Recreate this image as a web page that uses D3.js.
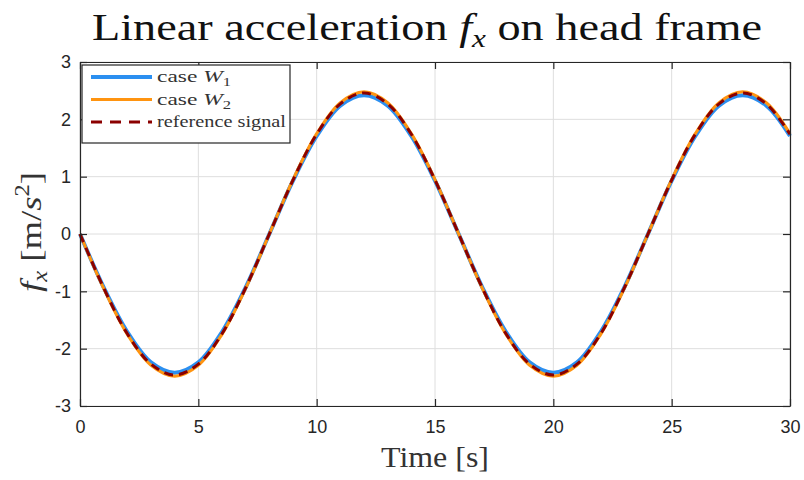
<!DOCTYPE html>
<html>
<head>
<meta charset="utf-8">
<script src="https://cdn.jsdelivr.net/npm/d3@7"></script>
<style>
  body { margin: 0; background: #fff; }
  .tick text { font-family: "Liberation Sans", Arial, sans-serif; font-size: 18px; fill: #262626; }
</style>
</head>
<body>
<script>
// time axis (s)
const time = [0, 1, 2, 3, 4, 5, 6, 7, 8, 9, 10, 11, 12, 13, 14, 15, 16, 17, 18, 19, 20, 21, 22, 23, 24, 25, 26, 27, 28, 29, 30];

// case W1 (blue)
const caseW1 = [0, -0.93, -1.71, -2.24, -2.42, -2.24, -1.71, -0.93, 0, 0.93, 1.71, 2.24, 2.42, 2.24, 1.71, 0.93,
  0, -0.93, -1.71, -2.24, -2.42, -2.24, -1.71, -0.93, 0, 0.93, 1.71, 2.24, 2.42, 2.24, 1.71];

// case W2 (orange)
const caseW2 = [0, -0.95, -1.75, -2.29, -2.48, -2.29, -1.75, -0.95, 0, 0.95, 1.75, 2.29, 2.48, 2.29, 1.75, 0.95,
  0, -0.95, -1.75, -2.29, -2.48, -2.29, -1.75, -0.95, 0, 0.95, 1.75, 2.29, 2.48, 2.29, 1.75];

// reference signal (dashed)
const refSignal = [0, -0.94, -1.74, -2.27, -2.46, -2.27, -1.74, -0.94, 0, 0.94, 1.74, 2.27, 2.46, 2.27, 1.74, 0.94,
  0, -0.94, -1.74, -2.27, -2.46, -2.27, -1.74, -0.94, 0, 0.94, 1.74, 2.27, 2.46, 2.27, 1.74];

const xTicks = [0, 5, 10, 15, 20, 25, 30];
const yTicks = [-3, -2, -1, 0, 1, 2, 3];

const W = 804, H = 480;
const margin = { top: 62, right: 14, bottom: 74, left: 80 };
const iw = W - margin.left - margin.right;
const ih = H - margin.top - margin.bottom;
const axisColor = "#262626";
const serif = "'Liberation Serif', 'DejaVu Serif', serif";

const svg = d3.select("body").append("svg")
  .attr("width", W)
  .attr("height", H);

const g = svg.append("g").attr("transform", `translate(${margin.left},${margin.top})`);

const x = d3.scaleLinear().domain([0, 30]).range([0, iw]);
const y = d3.scaleLinear().domain([-3, 3]).range([ih, 0]);

// grid
g.selectAll(".gx").data(xTicks).enter().append("line")
  .attr("x1", d => x(d)).attr("x2", d => x(d))
  .attr("y1", 0).attr("y2", ih)
  .attr("stroke", "#dedede").attr("stroke-width", 1);
g.selectAll(".gy").data(yTicks).enter().append("line")
  .attr("x1", 0).attr("x2", iw)
  .attr("y1", d => y(d)).attr("y2", d => y(d))
  .attr("stroke", "#dedede").attr("stroke-width", 1);

// lines
const series = [
  { name: "W1", values: caseW1, color: "#2b8ff0", width: 4, dash: null },
  { name: "W2", values: caseW2, color: "#ff9410", width: 3, dash: null },
  { name: "ref", values: refSignal, color: "#8b0000", width: 3, dash: "9,6" }
];

const line = d3.line()
  .x(d => x(d[0]))
  .y(d => y(d[1]))
  .curve(d3.curveCatmullRom.alpha(0.5));

series.forEach(s => {
  g.append("path")
    .datum(time.map((t, i) => [t, s.values[i]]))
    .attr("fill", "none")
    .attr("stroke", s.color)
    .attr("stroke-width", s.width)
    .attr("stroke-dasharray", s.dash)
    .attr("d", line);
});

// axes (ticks inward, mirrored)
const tl = 7;
const fmt = d => String(d);
const xAxis = g.append("g").attr("transform", `translate(0,${ih})`)
  .call(d3.axisBottom(x).tickValues(xTicks).tickFormat(fmt).tickSize(-tl).tickPadding(14).tickSizeOuter(0));
const yAxis = g.append("g")
  .call(d3.axisLeft(y).tickValues(yTicks).tickFormat(fmt).tickSize(-tl).tickPadding(9).tickSizeOuter(0));
const xTop = g.append("g")
  .call(d3.axisTop(x).tickValues(xTicks).tickSize(-tl).tickFormat("").tickSizeOuter(0));
const yRight = g.append("g").attr("transform", `translate(${iw},0)`)
  .call(d3.axisRight(y).tickValues(yTicks).tickSize(-tl).tickFormat("").tickSizeOuter(0));
[xAxis, yAxis, xTop, yRight].forEach(a => {
  a.selectAll("path, line").attr("stroke", axisColor).attr("stroke-width", 1.2);
});

// legend
const lg = g.append("g").attr("transform", "translate(2,3)");
lg.append("rect")
  .attr("width", 208).attr("height", 78)
  .attr("fill", "#fff").attr("stroke", axisColor).attr("stroke-width", 1.2);
const legendLabels = [["case ", "W", "1", 74], ["case ", "W", "2", 74], ["reference signal", "", "", 129]];
series.forEach((s, i) => {
  const ly = 12 + i * 22.5;
  lg.append("line")
    .attr("x1", 9).attr("x2", 70).attr("y1", ly).attr("y2", ly)
    .attr("stroke", s.color).attr("stroke-width", s.width)
    .attr("stroke-dasharray", s.dash ? "11,8" : null);
  const t = lg.append("text")
    .attr("x", 75).attr("y", ly + 5)
    .attr("font-family", serif)
    .attr("font-size", 17).attr("fill", "#333")
    .attr("textLength", legendLabels[i][3])
    .attr("lengthAdjust", "spacingAndGlyphs");
  t.append("tspan").text(legendLabels[i][0]);
  if (legendLabels[i][1]) {
    t.append("tspan").attr("font-style", "italic").text(legendLabels[i][1]);
    t.append("tspan").attr("font-size", 12).attr("dy", 4).text(legendLabels[i][2]);
  }
});

// title
const title = svg.append("text")
  .attr("x", 427).attr("y", 40)
  .attr("text-anchor", "middle")
  .attr("font-family", serif)
  .attr("font-size", 37).attr("fill", "#111")
  .attr("textLength", 670)
  .attr("lengthAdjust", "spacingAndGlyphs");
title.append("tspan").text("Linear acceleration ");
title.append("tspan").attr("font-style", "italic").text("f");
title.append("tspan").attr("font-style", "italic").attr("font-size", 25).attr("dy", 7).text("x");
title.append("tspan").attr("dy", -7).text(" on head frame");

// x label
svg.append("text")
  .attr("x", 435).attr("y", 467)
  .attr("text-anchor", "middle")
  .attr("font-family", serif)
  .attr("font-size", 30).attr("fill", "#333")
  .attr("textLength", 108)
  .attr("lengthAdjust", "spacingAndGlyphs")
  .text("Time [s]");

// y label
const yl = svg.append("text")
  .attr("transform", "translate(41,232) rotate(-90)")
  .attr("text-anchor", "middle")
  .attr("font-family", serif)
  .attr("font-size", 30).attr("fill", "#333")
  .attr("textLength", 120)
  .attr("lengthAdjust", "spacingAndGlyphs");
yl.append("tspan").attr("font-style", "italic").text("f");
yl.append("tspan").attr("font-style", "italic").attr("font-size", 20).attr("dy", 6).text("x");
yl.append("tspan").attr("dy", -6).text(" [m/");
yl.append("tspan").attr("font-style", "italic").text("s");
yl.append("tspan").attr("font-size", 20).attr("dy", -12).text("2");
yl.append("tspan").attr("dy", 12).text("]");
</script>
</body>
</html>
